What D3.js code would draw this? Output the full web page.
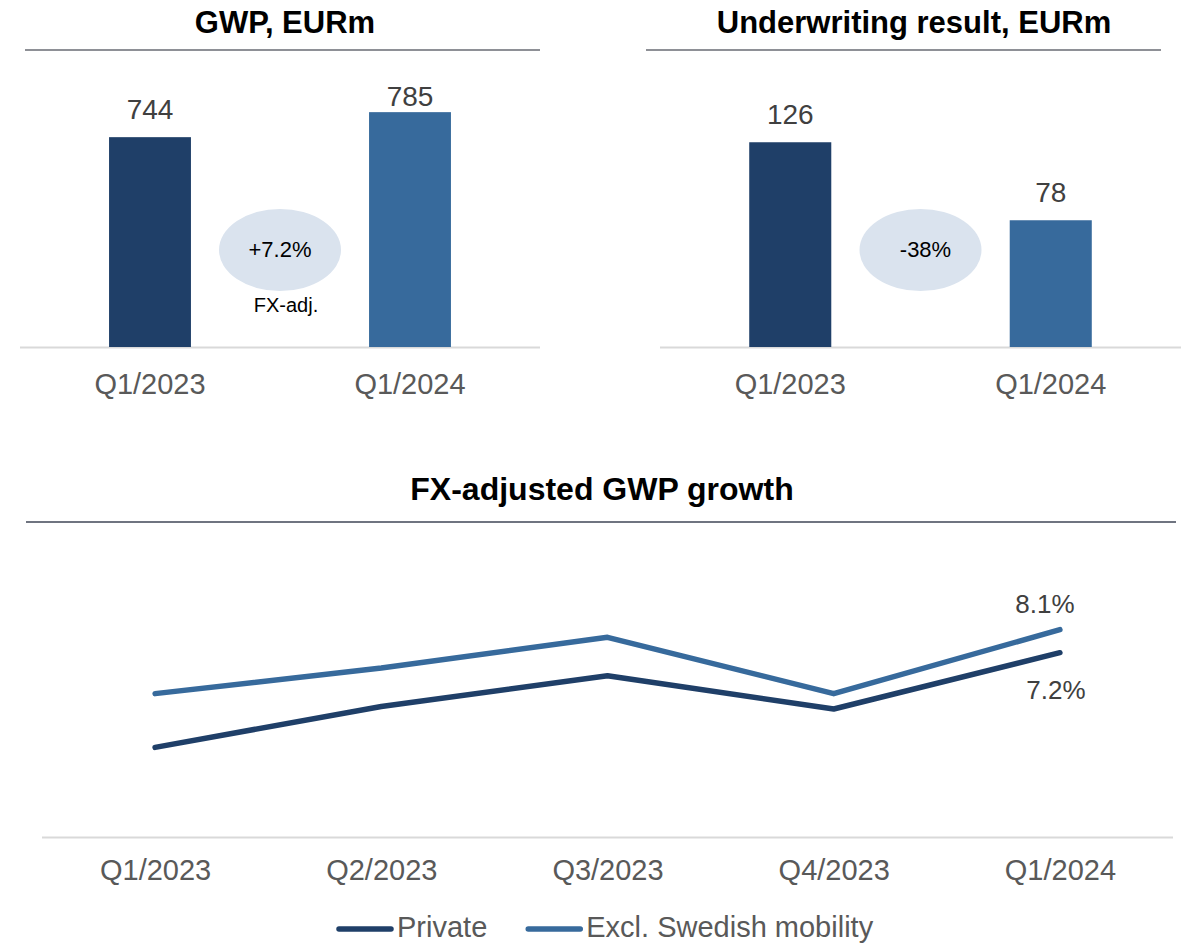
<!DOCTYPE html>
<html>
<head>
<meta charset="utf-8">
<script src="https://cdn.jsdelivr.net/npm/d3@7"></script>
<style>
  body { margin: 0; background: #fff; }
  text { font-family: "Liberation Sans", Arial, sans-serif; }
</style>
</head>
<body>
<script>
// GWP / underwriting result bars + FX-adjusted growth lines

// data
const gwpQuarters = ["Q1/2023", "Q1/2024"];
const gwpValues = [744, 785];
const gwpChange = "+7.2%";
const gwpChangeNote = "FX-adj.";

const uwQuarters = ["Q1/2023", "Q1/2024"];
const uwValues = [126, 78];
const uwChange = "-38%";

const growthQuarters = ["Q1/2023", "Q2/2023", "Q3/2023", "Q4/2023", "Q1/2024"];
const privateGrowth = [3.5, 5.1, 6.3, 5.0, 7.2];
const exclMobilityGrowth = [5.6, 6.6, 7.8, 5.6, 8.1];
const seriesNames = ["Private", "Excl. Swedish mobility"];

const dark = "#1f3f68";
const light = "#376a9c";

const width = 1181;
const height = 943;

const svg = d3.select("body")
    .append("svg")
    .attr("width", width)
    .attr("height", height);

// one bar panel
function barPanel(opts) {
    const g = svg.append("g");

    g.append("text")
        .attr("x", opts.titleX)
        .attr("y", 33)
        .attr("text-anchor", "middle")
        .attr("font-size", 31)
        .attr("font-weight", "bold")
        .attr("fill", "#000")
        .text(opts.title);

    g.append("line")
        .attr("x1", opts.ruleX[0]).attr("x2", opts.ruleX[1])
        .attr("y1", 50).attr("y2", 50)
        .attr("stroke", "#8e9096")
        .attr("stroke-width", 2);

    const x = d3.scaleBand()
        .domain(opts.cats)
        .range(opts.plotX)
        .paddingInner(0.685)
        .paddingOuter(0.3425);

    const y = d3.scaleLinear()
        .domain(opts.yDomain)
        .range([347, opts.plotTop]);

    g.append("line")
        .attr("x1", opts.plotX[0]).attr("x2", opts.plotX[1])
        .attr("y1", 347.5).attr("y2", 347.5)
        .attr("stroke", "#d9d9d9")
        .attr("stroke-width", 2);

    g.selectAll(".bar")
        .data(opts.values)
        .join("rect")
        .attr("x", (d, i) => x(opts.cats[i]))
        .attr("y", d => y(d))
        .attr("width", x.bandwidth())
        .attr("height", d => y(opts.yDomain[0]) - y(d))
        .attr("fill", (d, i) => i === 0 ? dark : light);

    // value labels, kept inside the chart area like Excel does
    g.selectAll(".val")
        .data(opts.values)
        .join("text")
        .attr("x", (d, i) => x(opts.cats[i]) + x.bandwidth() / 2)
        .attr("y", d => Math.max(y(d) - 18, 106))
        .attr("text-anchor", "middle")
        .attr("font-size", 28)
        .attr("fill", "#404040")
        .text(d => d);

    const axis = g.append("g")
        .attr("transform", "translate(0,347)")
        .call(d3.axisBottom(x).tickSize(0).tickPadding(26));
    axis.select(".domain").remove();
    axis.selectAll("text")
        .attr("font-size", 29)
        .attr("fill", "#595959")
        .style("font-family", "'Liberation Sans', Arial, sans-serif");

    // change bubble between the bars
    const cx = (x(opts.cats[0]) + x(opts.cats[1]) + x.bandwidth()) / 2;
    g.append("ellipse")
        .attr("cx", cx)
        .attr("cy", 250)
        .attr("rx", 61)
        .attr("ry", 41)
        .attr("fill", "#dae3ee");

    g.append("text")
        .attr("x", cx + opts.changeDx)
        .attr("y", 257)
        .attr("text-anchor", "middle")
        .attr("font-size", 22)
        .attr("fill", "#000")
        .text(opts.change);

    if (opts.note) {
        g.append("text")
            .attr("x", cx + 6)
            .attr("y", 312)
            .attr("text-anchor", "middle")
            .attr("font-size", 20)
            .attr("fill", "#000")
            .text(opts.note);
    }
}

barPanel({
    title: "GWP, EURm",
    titleX: 285,
    ruleX: [25, 540],
    plotX: [20, 540],
    plotTop: 42,
    yDomain: [400, 900],
    cats: gwpQuarters,
    values: gwpValues,
    change: gwpChange,
    changeDx: 0,
    note: gwpChangeNote
});

barPanel({
    title: "Underwriting result, EURm",
    titleX: 914,
    ruleX: [646, 1161],
    plotX: [660, 1181],
    plotTop: 22,
    yDomain: [0, 200],
    cats: uwQuarters,
    values: uwValues,
    change: uwChange,
    changeDx: 5,
    note: null
});

// line panel
svg.append("text")
    .attr("x", 602)
    .attr("y", 500)
    .attr("text-anchor", "middle")
    .attr("font-size", 32)
    .attr("font-weight", "bold")
    .attr("fill", "#000")
    .text("FX-adjusted GWP growth");

svg.append("line")
    .attr("x1", 26).attr("x2", 1176)
    .attr("y1", 522).attr("y2", 522)
    .attr("stroke", "#6f7480")
    .attr("stroke-width", 2);

const xLine = d3.scalePoint()
    .domain(growthQuarters)
    .range([42, 1173])
    .padding(0.5);

const yLine = d3.scaleLinear()
    .domain([0, 10])
    .range([837, 581]);

svg.append("line")
    .attr("x1", 42).attr("x2", 1173)
    .attr("y1", 837.5).attr("y2", 837.5)
    .attr("stroke", "#d9d9d9")
    .attr("stroke-width", 2);

const lineAxis = svg.append("g")
    .attr("transform", "translate(0,837)")
    .call(d3.axisBottom(xLine).tickSize(0).tickPadding(22));
lineAxis.select(".domain").remove();
lineAxis.selectAll("text")
    .attr("font-size", 29)
    .attr("fill", "#595959")
    .style("font-family", "'Liberation Sans', Arial, sans-serif");

const line = d3.line()
    .x((d, i) => xLine(growthQuarters[i]))
    .y(d => yLine(d));

svg.append("path")
    .datum(exclMobilityGrowth)
    .attr("fill", "none")
    .attr("stroke", light)
    .attr("stroke-width", 5.5)
    .attr("stroke-linecap", "round")
    .attr("stroke-linejoin", "round")
    .attr("d", line);

svg.append("path")
    .datum(privateGrowth)
    .attr("fill", "none")
    .attr("stroke", dark)
    .attr("stroke-width", 5.5)
    .attr("stroke-linecap", "round")
    .attr("stroke-linejoin", "round")
    .attr("d", line);

// end labels
const last = growthQuarters.length - 1;
svg.append("text")
    .attr("x", xLine(growthQuarters[last]) - 15)
    .attr("y", yLine(exclMobilityGrowth[last]) - 17)
    .attr("text-anchor", "middle")
    .attr("font-size", 26)
    .attr("fill", "#404040")
    .text(exclMobilityGrowth[last].toFixed(1) + "%");

svg.append("text")
    .attr("x", xLine(growthQuarters[last]) - 4)
    .attr("y", yLine(privateGrowth[last]) + 46)
    .attr("text-anchor", "middle")
    .attr("font-size", 26)
    .attr("fill", "#404040")
    .text(privateGrowth[last].toFixed(1) + "%");

// legend
const legend = svg.append("g").attr("transform", "translate(337,929)");
let lx = 0;
[dark, light].forEach((c, i) => {
    legend.append("line")
        .attr("x1", lx + 2).attr("x2", lx + 54)
        .attr("y1", 0).attr("y2", 0)
        .attr("stroke", c)
        .attr("stroke-width", 5.5)
        .attr("stroke-linecap", "round");
    const t = legend.append("text")
        .attr("x", lx + 60)
        .attr("y", 8)
        .attr("font-size", 29)
        .attr("fill", "#595959")
        .text(seriesNames[i]);
    lx += 60 + t.node().getComputedTextLength() + 39;
});
</script>
</body>
</html>
